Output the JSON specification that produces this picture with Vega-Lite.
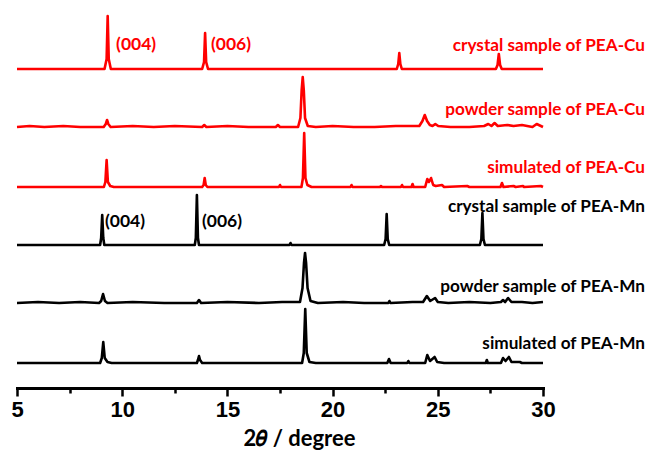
{
  "$schema": "https://vega.github.io/schema/vega-lite/v6.json",
  "autosize": {"type": "none"},
  "width": 526,
  "height": 388,
  "padding": {"left": 17, "top": 0, "right": 108, "bottom": 62},
  "config": {"view": {"stroke": null}},
  "datasets": {
    "patterns": [
      {"s": "crystal sample of PEA-Cu", "x": 5, "y": 319},
      {"s": "crystal sample of PEA-Cu", "x": 9.16, "y": 319},
      {"s": "crystal sample of PEA-Cu", "x": 9.26, "y": 329},
      {"s": "crystal sample of PEA-Cu", "x": 9.31, "y": 372},
      {"s": "crystal sample of PEA-Cu", "x": 9.36, "y": 329},
      {"s": "crystal sample of PEA-Cu", "x": 9.46, "y": 319},
      {"s": "crystal sample of PEA-Cu", "x": 13.8, "y": 319},
      {"s": "crystal sample of PEA-Cu", "x": 13.89, "y": 326},
      {"s": "crystal sample of PEA-Cu", "x": 13.94, "y": 355},
      {"s": "crystal sample of PEA-Cu", "x": 13.99, "y": 326},
      {"s": "crystal sample of PEA-Cu", "x": 14.08, "y": 319},
      {"s": "crystal sample of PEA-Cu", "x": 23.05, "y": 319},
      {"s": "crystal sample of PEA-Cu", "x": 23.12, "y": 324},
      {"s": "crystal sample of PEA-Cu", "x": 23.17, "y": 335},
      {"s": "crystal sample of PEA-Cu", "x": 23.22, "y": 324},
      {"s": "crystal sample of PEA-Cu", "x": 23.29, "y": 319},
      {"s": "crystal sample of PEA-Cu", "x": 27.76, "y": 319},
      {"s": "crystal sample of PEA-Cu", "x": 27.84, "y": 323},
      {"s": "crystal sample of PEA-Cu", "x": 27.9, "y": 334},
      {"s": "crystal sample of PEA-Cu", "x": 27.96, "y": 323},
      {"s": "crystal sample of PEA-Cu", "x": 28.04, "y": 319},
      {"s": "crystal sample of PEA-Cu", "x": 30, "y": 319},

      {"s": "powder sample of PEA-Cu", "x": 5, "y": 261},
      {"s": "powder sample of PEA-Cu", "x": 5.6, "y": 262},
      {"s": "powder sample of PEA-Cu", "x": 6.3, "y": 261},
      {"s": "powder sample of PEA-Cu", "x": 7.2, "y": 262},
      {"s": "powder sample of PEA-Cu", "x": 8.0, "y": 261},
      {"s": "powder sample of PEA-Cu", "x": 9.12, "y": 261},
      {"s": "powder sample of PEA-Cu", "x": 9.22, "y": 264},
      {"s": "powder sample of PEA-Cu", "x": 9.28, "y": 268},
      {"s": "powder sample of PEA-Cu", "x": 9.34, "y": 264},
      {"s": "powder sample of PEA-Cu", "x": 9.45, "y": 261},
      {"s": "powder sample of PEA-Cu", "x": 10.5, "y": 262},
      {"s": "powder sample of PEA-Cu", "x": 11.5, "y": 261},
      {"s": "powder sample of PEA-Cu", "x": 12.5, "y": 262},
      {"s": "powder sample of PEA-Cu", "x": 13.8, "y": 261},
      {"s": "powder sample of PEA-Cu", "x": 13.9, "y": 263},
      {"s": "powder sample of PEA-Cu", "x": 14.0, "y": 261},
      {"s": "powder sample of PEA-Cu", "x": 15.0, "y": 262},
      {"s": "powder sample of PEA-Cu", "x": 16.0, "y": 261},
      {"s": "powder sample of PEA-Cu", "x": 17.3, "y": 261},
      {"s": "powder sample of PEA-Cu", "x": 17.4, "y": 263},
      {"s": "powder sample of PEA-Cu", "x": 17.5, "y": 261},
      {"s": "powder sample of PEA-Cu", "x": 18.36, "y": 261},
      {"s": "powder sample of PEA-Cu", "x": 18.47, "y": 270},
      {"s": "powder sample of PEA-Cu", "x": 18.53, "y": 298},
      {"s": "powder sample of PEA-Cu", "x": 18.58, "y": 311},
      {"s": "powder sample of PEA-Cu", "x": 18.63, "y": 298},
      {"s": "powder sample of PEA-Cu", "x": 18.69, "y": 270},
      {"s": "powder sample of PEA-Cu", "x": 18.82, "y": 262},
      {"s": "powder sample of PEA-Cu", "x": 19.2, "y": 261},
      {"s": "powder sample of PEA-Cu", "x": 20.0, "y": 262},
      {"s": "powder sample of PEA-Cu", "x": 21.0, "y": 261},
      {"s": "powder sample of PEA-Cu", "x": 22.0, "y": 261},
      {"s": "powder sample of PEA-Cu", "x": 23.0, "y": 262},
      {"s": "powder sample of PEA-Cu", "x": 24.12, "y": 262},
      {"s": "powder sample of PEA-Cu", "x": 24.27, "y": 267},
      {"s": "powder sample of PEA-Cu", "x": 24.38, "y": 273},
      {"s": "powder sample of PEA-Cu", "x": 24.49, "y": 267},
      {"s": "powder sample of PEA-Cu", "x": 24.62, "y": 263},
      {"s": "powder sample of PEA-Cu", "x": 24.75, "y": 262},
      {"s": "powder sample of PEA-Cu", "x": 24.88, "y": 264},
      {"s": "powder sample of PEA-Cu", "x": 25.02, "y": 262},
      {"s": "powder sample of PEA-Cu", "x": 25.6, "y": 261},
      {"s": "powder sample of PEA-Cu", "x": 26.5, "y": 261},
      {"s": "powder sample of PEA-Cu", "x": 27.2, "y": 262},
      {"s": "powder sample of PEA-Cu", "x": 27.4, "y": 264},
      {"s": "powder sample of PEA-Cu", "x": 27.55, "y": 262},
      {"s": "powder sample of PEA-Cu", "x": 27.7, "y": 265},
      {"s": "powder sample of PEA-Cu", "x": 27.85, "y": 262},
      {"s": "powder sample of PEA-Cu", "x": 28.3, "y": 263},
      {"s": "powder sample of PEA-Cu", "x": 28.6, "y": 262},
      {"s": "powder sample of PEA-Cu", "x": 29.0, "y": 263},
      {"s": "powder sample of PEA-Cu", "x": 29.5, "y": 261},
      {"s": "powder sample of PEA-Cu", "x": 29.7, "y": 264},
      {"s": "powder sample of PEA-Cu", "x": 29.9, "y": 262},
      {"s": "powder sample of PEA-Cu", "x": 30, "y": 261},

      {"s": "simulated of PEA-Cu", "x": 5, "y": 201},
      {"s": "simulated of PEA-Cu", "x": 9.13, "y": 201},
      {"s": "simulated of PEA-Cu", "x": 9.2, "y": 206},
      {"s": "simulated of PEA-Cu", "x": 9.26, "y": 228},
      {"s": "simulated of PEA-Cu", "x": 9.32, "y": 206},
      {"s": "simulated of PEA-Cu", "x": 9.43, "y": 202},
      {"s": "simulated of PEA-Cu", "x": 9.6, "y": 201},
      {"s": "simulated of PEA-Cu", "x": 13.8, "y": 201},
      {"s": "simulated of PEA-Cu", "x": 13.87, "y": 203},
      {"s": "simulated of PEA-Cu", "x": 13.92, "y": 210},
      {"s": "simulated of PEA-Cu", "x": 13.97, "y": 203},
      {"s": "simulated of PEA-Cu", "x": 14.05, "y": 201},
      {"s": "simulated of PEA-Cu", "x": 17.45, "y": 201},
      {"s": "simulated of PEA-Cu", "x": 17.5, "y": 203},
      {"s": "simulated of PEA-Cu", "x": 17.55, "y": 201},
      {"s": "simulated of PEA-Cu", "x": 18.52, "y": 201},
      {"s": "simulated of PEA-Cu", "x": 18.59, "y": 210},
      {"s": "simulated of PEA-Cu", "x": 18.65, "y": 255},
      {"s": "simulated of PEA-Cu", "x": 18.71, "y": 210},
      {"s": "simulated of PEA-Cu", "x": 18.8, "y": 203},
      {"s": "simulated of PEA-Cu", "x": 19.0, "y": 201},
      {"s": "simulated of PEA-Cu", "x": 20.85, "y": 201},
      {"s": "simulated of PEA-Cu", "x": 20.9, "y": 203},
      {"s": "simulated of PEA-Cu", "x": 20.95, "y": 201},
      {"s": "simulated of PEA-Cu", "x": 22.25, "y": 201},
      {"s": "simulated of PEA-Cu", "x": 22.3, "y": 202},
      {"s": "simulated of PEA-Cu", "x": 22.35, "y": 201},
      {"s": "simulated of PEA-Cu", "x": 23.25, "y": 201},
      {"s": "simulated of PEA-Cu", "x": 23.3, "y": 203},
      {"s": "simulated of PEA-Cu", "x": 23.35, "y": 201},
      {"s": "simulated of PEA-Cu", "x": 23.75, "y": 201},
      {"s": "simulated of PEA-Cu", "x": 23.8, "y": 204},
      {"s": "simulated of PEA-Cu", "x": 23.85, "y": 201},
      {"s": "simulated of PEA-Cu", "x": 24.4, "y": 201},
      {"s": "simulated of PEA-Cu", "x": 24.5, "y": 209},
      {"s": "simulated of PEA-Cu", "x": 24.58, "y": 206},
      {"s": "simulated of PEA-Cu", "x": 24.68, "y": 210},
      {"s": "simulated of PEA-Cu", "x": 24.78, "y": 203},
      {"s": "simulated of PEA-Cu", "x": 24.9, "y": 202},
      {"s": "simulated of PEA-Cu", "x": 25.2, "y": 203},
      {"s": "simulated of PEA-Cu", "x": 25.3, "y": 201},
      {"s": "simulated of PEA-Cu", "x": 26.4, "y": 202},
      {"s": "simulated of PEA-Cu", "x": 26.5, "y": 201},
      {"s": "simulated of PEA-Cu", "x": 27.98, "y": 201},
      {"s": "simulated of PEA-Cu", "x": 28.05, "y": 205},
      {"s": "simulated of PEA-Cu", "x": 28.12, "y": 201},
      {"s": "simulated of PEA-Cu", "x": 28.6, "y": 202},
      {"s": "simulated of PEA-Cu", "x": 28.7, "y": 201},
      {"s": "simulated of PEA-Cu", "x": 29.05, "y": 202},
      {"s": "simulated of PEA-Cu", "x": 29.1, "y": 201},
      {"s": "simulated of PEA-Cu", "x": 29.9, "y": 202},
      {"s": "simulated of PEA-Cu", "x": 30, "y": 201},

      {"s": "crystal sample of PEA-Mn", "x": 5, "y": 143},
      {"s": "crystal sample of PEA-Mn", "x": 8.95, "y": 143},
      {"s": "crystal sample of PEA-Mn", "x": 9.0, "y": 150},
      {"s": "crystal sample of PEA-Mn", "x": 9.05, "y": 173},
      {"s": "crystal sample of PEA-Mn", "x": 9.1, "y": 150},
      {"s": "crystal sample of PEA-Mn", "x": 9.15, "y": 143},
      {"s": "crystal sample of PEA-Mn", "x": 13.45, "y": 143},
      {"s": "crystal sample of PEA-Mn", "x": 13.5, "y": 150},
      {"s": "crystal sample of PEA-Mn", "x": 13.55, "y": 193},
      {"s": "crystal sample of PEA-Mn", "x": 13.6, "y": 150},
      {"s": "crystal sample of PEA-Mn", "x": 13.65, "y": 143},
      {"s": "crystal sample of PEA-Mn", "x": 17.95, "y": 143},
      {"s": "crystal sample of PEA-Mn", "x": 18.0, "y": 145},
      {"s": "crystal sample of PEA-Mn", "x": 18.05, "y": 143},
      {"s": "crystal sample of PEA-Mn", "x": 22.45, "y": 143},
      {"s": "crystal sample of PEA-Mn", "x": 22.52, "y": 149},
      {"s": "crystal sample of PEA-Mn", "x": 22.57, "y": 174},
      {"s": "crystal sample of PEA-Mn", "x": 22.62, "y": 149},
      {"s": "crystal sample of PEA-Mn", "x": 22.69, "y": 143},
      {"s": "crystal sample of PEA-Mn", "x": 27.0, "y": 143},
      {"s": "crystal sample of PEA-Mn", "x": 27.07, "y": 149},
      {"s": "crystal sample of PEA-Mn", "x": 27.12, "y": 175},
      {"s": "crystal sample of PEA-Mn", "x": 27.17, "y": 149},
      {"s": "crystal sample of PEA-Mn", "x": 27.24, "y": 143},
      {"s": "crystal sample of PEA-Mn", "x": 30, "y": 143},

      {"s": "powder sample of PEA-Mn", "x": 5, "y": 85},
      {"s": "powder sample of PEA-Mn", "x": 6, "y": 86},
      {"s": "powder sample of PEA-Mn", "x": 7, "y": 85},
      {"s": "powder sample of PEA-Mn", "x": 8, "y": 86},
      {"s": "powder sample of PEA-Mn", "x": 8.9, "y": 85},
      {"s": "powder sample of PEA-Mn", "x": 9.0, "y": 87},
      {"s": "powder sample of PEA-Mn", "x": 9.09, "y": 94},
      {"s": "powder sample of PEA-Mn", "x": 9.18, "y": 87},
      {"s": "powder sample of PEA-Mn", "x": 9.3, "y": 85},
      {"s": "powder sample of PEA-Mn", "x": 10.5, "y": 86},
      {"s": "powder sample of PEA-Mn", "x": 12, "y": 85},
      {"s": "powder sample of PEA-Mn", "x": 13.55, "y": 85},
      {"s": "powder sample of PEA-Mn", "x": 13.65, "y": 88},
      {"s": "powder sample of PEA-Mn", "x": 13.75, "y": 85},
      {"s": "powder sample of PEA-Mn", "x": 15, "y": 86},
      {"s": "powder sample of PEA-Mn", "x": 16.5, "y": 85},
      {"s": "powder sample of PEA-Mn", "x": 17.6, "y": 86},
      {"s": "powder sample of PEA-Mn", "x": 18.45, "y": 86},
      {"s": "powder sample of PEA-Mn", "x": 18.57, "y": 100},
      {"s": "powder sample of PEA-Mn", "x": 18.64, "y": 125},
      {"s": "powder sample of PEA-Mn", "x": 18.69, "y": 135},
      {"s": "powder sample of PEA-Mn", "x": 18.74, "y": 125},
      {"s": "powder sample of PEA-Mn", "x": 18.81, "y": 100},
      {"s": "powder sample of PEA-Mn", "x": 18.95, "y": 87},
      {"s": "powder sample of PEA-Mn", "x": 19.3, "y": 85},
      {"s": "powder sample of PEA-Mn", "x": 20.5, "y": 86},
      {"s": "powder sample of PEA-Mn", "x": 21.5, "y": 85},
      {"s": "powder sample of PEA-Mn", "x": 22.65, "y": 85},
      {"s": "powder sample of PEA-Mn", "x": 22.7, "y": 87},
      {"s": "powder sample of PEA-Mn", "x": 22.75, "y": 85},
      {"s": "powder sample of PEA-Mn", "x": 23.8, "y": 86},
      {"s": "powder sample of PEA-Mn", "x": 24.3, "y": 86},
      {"s": "powder sample of PEA-Mn", "x": 24.48, "y": 92},
      {"s": "powder sample of PEA-Mn", "x": 24.64, "y": 87},
      {"s": "powder sample of PEA-Mn", "x": 24.87, "y": 90},
      {"s": "powder sample of PEA-Mn", "x": 25.0, "y": 86},
      {"s": "powder sample of PEA-Mn", "x": 25.5, "y": 85},
      {"s": "powder sample of PEA-Mn", "x": 26.5, "y": 86},
      {"s": "powder sample of PEA-Mn", "x": 27.5, "y": 85},
      {"s": "powder sample of PEA-Mn", "x": 28.0, "y": 86},
      {"s": "powder sample of PEA-Mn", "x": 28.1, "y": 88},
      {"s": "powder sample of PEA-Mn", "x": 28.2, "y": 86},
      {"s": "powder sample of PEA-Mn", "x": 28.34, "y": 90},
      {"s": "powder sample of PEA-Mn", "x": 28.5, "y": 86},
      {"s": "powder sample of PEA-Mn", "x": 29, "y": 86},
      {"s": "powder sample of PEA-Mn", "x": 29.5, "y": 85},
      {"s": "powder sample of PEA-Mn", "x": 30, "y": 86},

      {"s": "simulated of PEA-Mn", "x": 5, "y": 25},
      {"s": "simulated of PEA-Mn", "x": 8.95, "y": 25},
      {"s": "simulated of PEA-Mn", "x": 9.03, "y": 30},
      {"s": "simulated of PEA-Mn", "x": 9.1, "y": 46},
      {"s": "simulated of PEA-Mn", "x": 9.17, "y": 30},
      {"s": "simulated of PEA-Mn", "x": 9.3, "y": 26},
      {"s": "simulated of PEA-Mn", "x": 9.5, "y": 25},
      {"s": "simulated of PEA-Mn", "x": 13.55, "y": 25},
      {"s": "simulated of PEA-Mn", "x": 13.6, "y": 28},
      {"s": "simulated of PEA-Mn", "x": 13.65, "y": 32},
      {"s": "simulated of PEA-Mn", "x": 13.7, "y": 28},
      {"s": "simulated of PEA-Mn", "x": 13.8, "y": 25},
      {"s": "simulated of PEA-Mn", "x": 18.55, "y": 25},
      {"s": "simulated of PEA-Mn", "x": 18.63, "y": 35},
      {"s": "simulated of PEA-Mn", "x": 18.7, "y": 79},
      {"s": "simulated of PEA-Mn", "x": 18.77, "y": 35},
      {"s": "simulated of PEA-Mn", "x": 18.9, "y": 26},
      {"s": "simulated of PEA-Mn", "x": 19.2, "y": 25},
      {"s": "simulated of PEA-Mn", "x": 22.6, "y": 25},
      {"s": "simulated of PEA-Mn", "x": 22.68, "y": 29},
      {"s": "simulated of PEA-Mn", "x": 22.76, "y": 25},
      {"s": "simulated of PEA-Mn", "x": 23.55, "y": 25},
      {"s": "simulated of PEA-Mn", "x": 23.6, "y": 27},
      {"s": "simulated of PEA-Mn", "x": 23.65, "y": 25},
      {"s": "simulated of PEA-Mn", "x": 24.4, "y": 25},
      {"s": "simulated of PEA-Mn", "x": 24.5, "y": 33},
      {"s": "simulated of PEA-Mn", "x": 24.63, "y": 27},
      {"s": "simulated of PEA-Mn", "x": 24.85, "y": 31},
      {"s": "simulated of PEA-Mn", "x": 24.97, "y": 26},
      {"s": "simulated of PEA-Mn", "x": 25.3, "y": 25},
      {"s": "simulated of PEA-Mn", "x": 27.28, "y": 25},
      {"s": "simulated of PEA-Mn", "x": 27.33, "y": 28},
      {"s": "simulated of PEA-Mn", "x": 27.38, "y": 25},
      {"s": "simulated of PEA-Mn", "x": 28.0, "y": 25},
      {"s": "simulated of PEA-Mn", "x": 28.1, "y": 30},
      {"s": "simulated of PEA-Mn", "x": 28.22, "y": 27},
      {"s": "simulated of PEA-Mn", "x": 28.38, "y": 31},
      {"s": "simulated of PEA-Mn", "x": 28.5, "y": 26},
      {"s": "simulated of PEA-Mn", "x": 28.9, "y": 26},
      {"s": "simulated of PEA-Mn", "x": 29.0, "y": 25},
      {"s": "simulated of PEA-Mn", "x": 30, "y": 25}
    ],
    "labels": [
      {"s": "crystal sample of PEA-Cu", "x": 30, "y": 337},
      {"s": "powder sample of PEA-Cu", "x": 30, "y": 273},
      {"s": "simulated of PEA-Cu", "x": 30, "y": 215},
      {"s": "crystal sample of PEA-Mn", "x": 30, "y": 176},
      {"s": "powder sample of PEA-Mn", "x": 30, "y": 96},
      {"s": "simulated of PEA-Mn", "x": 30, "y": 39}
    ],
    "planes": [
      {"s": "crystal sample of PEA-Cu", "t": "(004)", "x": 9.71, "y": 338},
      {"s": "crystal sample of PEA-Cu", "t": "(006)", "x": 14.22, "y": 338},
      {"s": "crystal sample of PEA-Mn", "t": "(004)", "x": 9.18, "y": 161},
      {"s": "crystal sample of PEA-Mn", "t": "(006)", "x": 13.79, "y": 161}
    ]
  },
  "layer": [
    {
      "data": {"name": "patterns"},
      "mark": {"type": "line", "strokeWidth": 2.6, "clip": false, "strokeJoin": "round"},
      "encoding": {
        "x": {
          "field": "x", "type": "quantitative",
          "scale": {"domain": [5, 30], "nice": false, "zero": false},
          "axis": {
            "title": "2𝜃 / degree",
            "values": [5, 7.5, 10, 12.5, 15, 17.5, 20, 22.5, 25, 27.5, 30],
            "labelExpr": "datum.value % 5 === 0 ? datum.label : ''",
            "labelOverlap": false,
            "labelFlush": false,
            "grid": false,
            "domainWidth": 3,
            "domainColor": "black",
            "domainCap": "square",
            "tickColor": "black",
            "tickWidth": 2.5,
            "tickSize": {"condition": {"test": "datum.value % 5 === 0", "value": 8}, "value": 5},
            "labelFont": "Liberation Sans",
            "labelFontWeight": "bold",
            "labelFontSize": 22,
            "labelColor": "black",
            "labelPadding": 3,
            "titleFont": "Lato",
            "titleFontWeight": "bold",
            "titleFontSize": 22,
            "titleColor": "black",
            "titlePadding": 8,
            "titleX": 282
          }
        },
        "y": {
          "field": "y", "type": "quantitative",
          "scale": {"domain": [0, 388], "nice": false},
          "axis": null
        },
        "color": {
          "field": "s", "type": "nominal",
          "scale": {
            "domain": ["crystal sample of PEA-Cu", "powder sample of PEA-Cu", "simulated of PEA-Cu", "crystal sample of PEA-Mn", "powder sample of PEA-Mn", "simulated of PEA-Mn"],
            "range": ["#ff0000", "#ff0000", "#ff0000", "#000000", "#000000", "#000000"]
          },
          "legend": null
        }
      }
    },
    {
      "data": {"name": "labels"},
      "mark": {"type": "text", "align": "right", "baseline": "alphabetic", "dx": 102, "font": "Lato", "fontWeight": "bold", "fontSize": 17.2, "clip": false},
      "encoding": {
        "x": {"field": "x", "type": "quantitative"},
        "y": {"field": "y", "type": "quantitative"},
        "text": {"field": "s"},
        "color": {"field": "s", "type": "nominal", "legend": null}
      }
    },
    {
      "data": {"name": "planes"},
      "mark": {"type": "text", "align": "left", "baseline": "alphabetic", "font": "Lato", "fontWeight": "bold", "fontSize": 17.5, "clip": false},
      "encoding": {
        "x": {"field": "x", "type": "quantitative"},
        "y": {"field": "y", "type": "quantitative"},
        "text": {"field": "t"},
        "color": {"field": "s", "type": "nominal", "legend": null}
      }
    }
  ]
}
